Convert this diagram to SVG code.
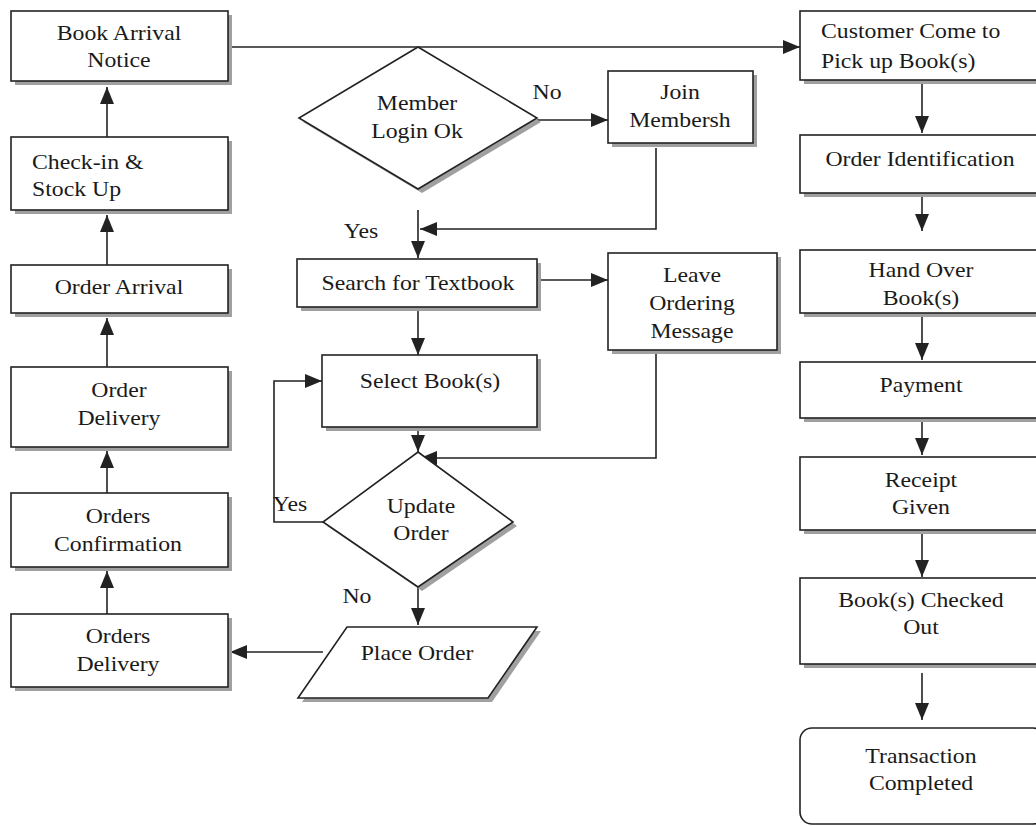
<svg xmlns="http://www.w3.org/2000/svg" width="1036" height="826" viewBox="0 0 1036 826">
<style>
.box{fill:#fff;stroke:#222;stroke-width:1.6}
.sh{fill:#a0a0a0;stroke:none}
.t{font-family:"Liberation Serif","Times New Roman",serif;font-size:22px;fill:#1a1a1a;text-anchor:middle;transform-box:fill-box;transform-origin:50% 50%;transform:scaleX(1.08)}
.l{text-anchor:start;transform-origin:0% 50%}
.c{fill:none;stroke:#222;stroke-width:1.6}
</style>
<defs>
<marker id="ah" markerUnits="userSpaceOnUse" viewBox="0 0 17 14" refX="17" refY="7" markerWidth="17" markerHeight="14" orient="auto">
<path d="M0,0 L17,7 L0,14 z" fill="#222"/>
</marker>
</defs>
<rect width="1036" height="826" fill="#fff"/>

<g id="connectors">
<path class="c" d="M107,137 V87" marker-end="url(#ah)"/>
<path class="c" d="M107,265 V215" marker-end="url(#ah)"/>
<path class="c" d="M107,367 V318" marker-end="url(#ah)"/>
<path class="c" d="M107,493 V451" marker-end="url(#ah)"/>
<path class="c" d="M107,614 V571" marker-end="url(#ah)"/>
<path class="c" d="M232,47 H800" marker-end="url(#ah)"/>
<path class="c" d="M537,120 H608" marker-end="url(#ah)"/>
<path class="c" d="M656,148 V229 H420" marker-end="url(#ah)"/>
<path class="c" d="M418,210 V258" marker-end="url(#ah)"/>
<path class="c" d="M541,280 H608" marker-end="url(#ah)"/>
<path class="c" d="M656,354 V458 H420" marker-end="url(#ah)"/>
<path class="c" d="M418,307 V355" marker-end="url(#ah)"/>
<path class="c" d="M418,403 V452" marker-end="url(#ah)"/>
<path class="c" d="M323,522 H274 V381 H322" marker-end="url(#ah)"/>
<path class="c" d="M418,587 V625" marker-end="url(#ah)"/>
<path class="c" d="M323,652 H230" marker-end="url(#ah)"/>
<path class="c" d="M922,84 V133" marker-end="url(#ah)"/>
<path class="c" d="M922,183 V231" marker-end="url(#ah)"/>
<path class="c" d="M922,313 V360" marker-end="url(#ah)"/>
<path class="c" d="M922,420 V455" marker-end="url(#ah)"/>
<path class="c" d="M922,530 V577" marker-end="url(#ah)"/>
<path class="c" d="M922,673 V720" marker-end="url(#ah)"/>
</g>

<g id="labels">
<text class="t" x="547" y="99">No</text>
<text class="t" x="361" y="238">Yes</text>
<text class="t" x="290" y="511">Yes</text>
<text class="t" x="357" y="603">No</text>
</g>

<g id="book-arrival">
<rect class="sh" x="15" y="15" width="217" height="70"/>
<rect class="box" x="11" y="11" width="217" height="70"/>
<text class="t" x="119" y="40">Book Arrival</text>
<text class="t" x="119" y="67">Notice</text>
</g>
<g id="check-in">
<rect class="sh" x="15" y="141" width="217" height="73"/>
<rect class="box" x="11" y="137" width="217" height="73"/>
<text class="t l" x="32" y="169">Check-in &amp;</text>
<text class="t l" x="32" y="196">Stock Up</text>
</g>
<g id="order-arrival">
<rect class="sh" x="15" y="269" width="217" height="48"/>
<rect class="box" x="11" y="265" width="217" height="48"/>
<text class="t" x="119" y="294">Order Arrival</text>
</g>
<g id="order-delivery">
<rect class="sh" x="15" y="371" width="217" height="80"/>
<rect class="box" x="11" y="367" width="217" height="80"/>
<text class="t" x="119" y="397">Order</text>
<text class="t" x="119" y="425">Delivery</text>
</g>
<g id="orders-confirmation">
<rect class="sh" x="15" y="497" width="217" height="74"/>
<rect class="box" x="11" y="493" width="217" height="74"/>
<text class="t" x="118" y="523">Orders</text>
<text class="t" x="118" y="551">Confirmation</text>
</g>
<g id="orders-delivery">
<rect class="sh" x="15" y="618" width="217" height="73"/>
<rect class="box" x="11" y="614" width="217" height="73"/>
<text class="t" x="118" y="643">Orders</text>
<text class="t" x="118" y="671">Delivery</text>
</g>

<g id="member-login">
<polygon class="sh" points="422,51 541,122 422,193 303,122"/>
<polygon class="box" points="418,47 537,118 418,189 299,118"/>
<text class="t" x="417" y="110">Member</text>
<text class="t" x="417" y="138">Login Ok</text>
</g>
<g id="join">
<rect class="sh" x="612" y="75" width="145" height="72"/>
<rect class="box" x="608" y="71" width="145" height="72"/>
<text class="t" x="680" y="99">Join</text>
<text class="t" x="680" y="127">Membersh</text>
</g>
<g id="search">
<rect class="sh" x="301" y="263" width="240" height="48"/>
<rect class="box" x="297" y="259" width="240" height="48"/>
<text class="t" x="418" y="290">Search for Textbook</text>
</g>
<g id="leave-message">
<rect class="sh" x="612" y="257" width="169" height="97"/>
<rect class="box" x="608" y="253" width="169" height="97"/>
<text class="t" x="692" y="282">Leave</text>
<text class="t" x="692" y="310">Ordering</text>
<text class="t" x="692" y="338">Message</text>
</g>
<g id="select-books">
<rect class="sh" x="326" y="359" width="215" height="72"/>
<rect class="box" x="322" y="355" width="215" height="72"/>
<text class="t" x="430" y="388">Select Book(s)</text>
</g>
<g id="update-order">
<polygon class="sh" points="422,456 517,526 422,591 327,526"/>
<polygon class="box" points="418,452 513,522 418,587 323,522"/>
<text class="t" x="421" y="513">Update</text>
<text class="t" x="421" y="540">Order</text>
</g>
<g id="place-order">
<polygon class="sh" points="351,631 541,631 492,702 302,702"/>
<polygon class="box" points="347,627 537,627 488,698 298,698"/>
<text class="t" x="417" y="660">Place Order</text>
</g>

<g id="customer-pickup">
<rect class="sh" x="804" y="15" width="245" height="69"/>
<rect class="box" x="800" y="11" width="245" height="69"/>
<text class="t l" x="821" y="38">Customer Come to</text>
<text class="t l" x="821" y="68">Pick up Book(s)</text>
</g>
<g id="order-identification">
<rect class="sh" x="804" y="139" width="245" height="58"/>
<rect class="box" x="800" y="135" width="245" height="58"/>
<text class="t" x="920" y="166">Order Identification</text>
</g>
<g id="hand-over">
<rect class="sh" x="804" y="254" width="245" height="63"/>
<rect class="box" x="800" y="250" width="245" height="63"/>
<text class="t" x="921" y="277">Hand Over</text>
<text class="t" x="921" y="305">Book(s)</text>
</g>
<g id="payment">
<rect class="sh" x="804" y="366" width="245" height="56"/>
<rect class="box" x="800" y="362" width="245" height="56"/>
<text class="t" x="921" y="392">Payment</text>
</g>
<g id="receipt">
<rect class="sh" x="804" y="461" width="245" height="73"/>
<rect class="box" x="800" y="457" width="245" height="73"/>
<text class="t" x="921" y="487">Receipt</text>
<text class="t" x="921" y="514">Given</text>
</g>
<g id="checked-out">
<rect class="sh" x="804" y="582" width="245" height="86"/>
<rect class="box" x="800" y="578" width="245" height="86"/>
<text class="t" x="921" y="607">Book(s) Checked</text>
<text class="t" x="921" y="634">Out</text>
</g>
<g id="transaction-completed">
<rect class="box" x="800" y="728" width="245" height="96" rx="12"/>
<text class="t" x="921" y="763">Transaction</text>
<text class="t" x="921" y="790">Completed</text>
</g>
</svg>
